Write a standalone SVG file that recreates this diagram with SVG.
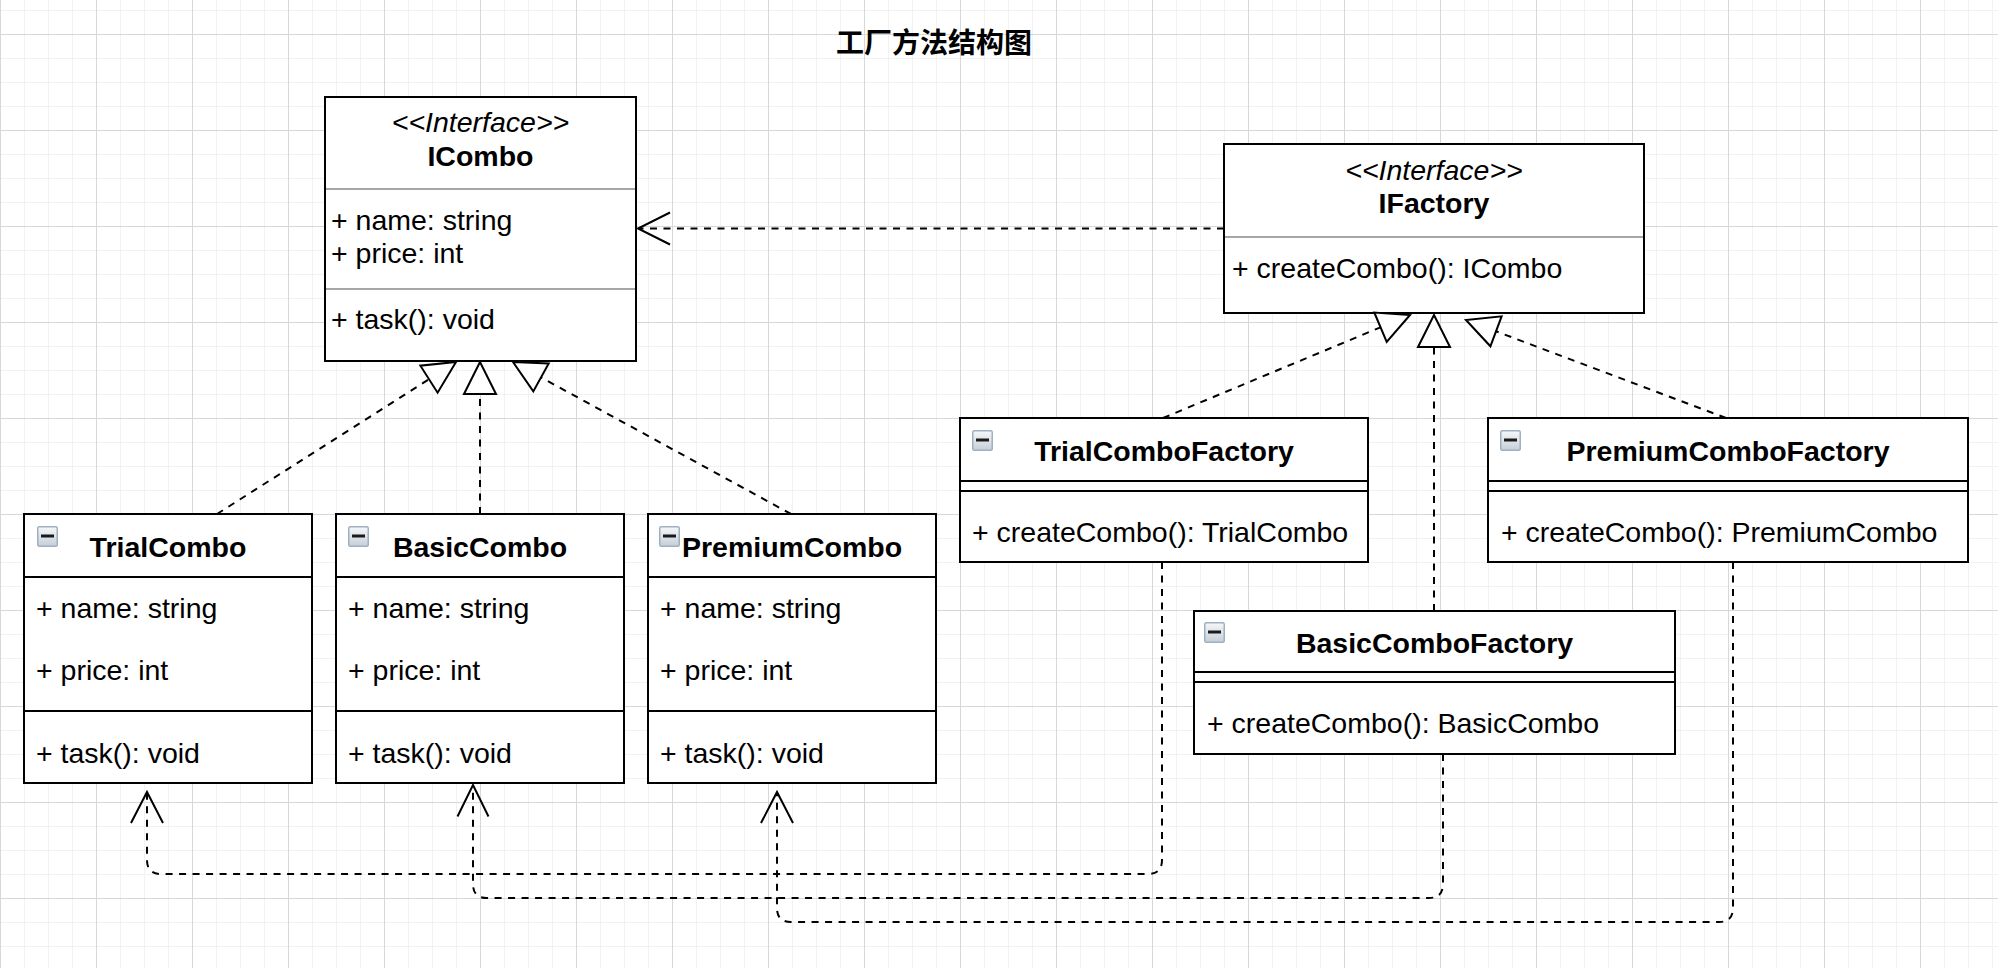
<svg xmlns="http://www.w3.org/2000/svg" width="1998" height="968" viewBox="0 0 1998 968">
<style>
.box{fill:#fff;stroke:#000;stroke-width:2}
.div{stroke:#000;stroke-width:2;fill:none}
.hr{stroke:#a6a6a6;stroke-width:2;fill:none}
.t{font-family:"Liberation Sans",Arial,Helvetica,sans-serif;font-size:28.5px;fill:#000}
.b{font-weight:bold}
.i{font-style:italic}
.c{text-anchor:middle}
.title{font-family:"Noto Sans CJK SC","Noto Sans",sans-serif;font-size:28px;font-weight:bold;text-anchor:middle;fill:#000}
.dash{fill:none;stroke:#000;stroke-width:2;stroke-dasharray:7 6.5}
.open{fill:none;stroke:#000;stroke-width:2;stroke-linejoin:miter}
.tri{fill:#fff;stroke:#000;stroke-width:2;stroke-linejoin:miter}
</style>
<defs>
<pattern id="grid" width="96" height="96" patternUnits="userSpaceOnUse" x="0" y="34">
<path d="M24.5 0V96M48.5 0V96M72.5 0V96M0 24.5H96M0 48.5H96M0 72.5H96" stroke="#f2f2f2" stroke-width="1" fill="none"/>
<path d="M0.5 0V96M0 0.5H96" stroke="#d8d8d8" stroke-width="1" fill="none"/>
</pattern>
<linearGradient id="ig" x1="0" y1="0" x2="0" y2="1">
<stop offset="0" stop-color="#f6f8fa"/>
<stop offset="1" stop-color="#c5ced8"/>
</linearGradient>
<g id="icon">
<rect x="0.75" y="0.75" width="19.5" height="19.5" rx="1.5" fill="url(#ig)" stroke="#9fb0c2" stroke-width="1.5"/>
<rect x="4" y="8.5" width="13" height="3" fill="#1a1a1a"/>
</g>
</defs>
<rect width="1998" height="968" fill="#fff"/>
<rect width="1998" height="968" fill="url(#grid)"/>

<text class="title" x="934" y="53">工厂方法结构图</text>

<g id="ICombo">
<rect class="box" x="325" y="97" width="311" height="264"/>
<text class="t i c" x="480.5" y="132">&lt;&lt;Interface&gt;&gt;</text>
<text class="t b c" x="480.5" y="166">ICombo</text>
<line class="hr" x1="326" y1="189" x2="635" y2="189"/>
<text class="t" x="331" y="230">+ name: string</text>
<text class="t" x="331" y="263">+ price: int</text>
<line class="hr" x1="326" y1="289" x2="635" y2="289"/>
<text class="t" x="331" y="329">+ task(): void</text>
</g>

<g id="IFactory">
<rect class="box" x="1224" y="144" width="420" height="169"/>
<text class="t i c" x="1434" y="180">&lt;&lt;Interface&gt;&gt;</text>
<text class="t b c" x="1434" y="213">IFactory</text>
<line class="hr" x1="1225" y1="237" x2="1643" y2="237"/>
<text class="t" x="1232" y="278">+ createCombo(): ICombo</text>
</g>

<g id="TrialCombo">
<rect class="box" x="24" y="514" width="288" height="269"/>
<line class="div" x1="24" y1="577" x2="312" y2="577"/>
<line class="div" x1="24" y1="711" x2="312" y2="711"/>
<use href="#icon" x="37" y="526"/>
<text class="t b c" x="168" y="557">TrialCombo</text>
<text class="t" x="36" y="618">+ name: string</text>
<text class="t" x="36" y="680">+ price: int</text>
<text class="t" x="36" y="763">+ task(): void</text>
</g>

<g id="BasicCombo">
<rect class="box" x="336" y="514" width="288" height="269"/>
<line class="div" x1="336" y1="577" x2="624" y2="577"/>
<line class="div" x1="336" y1="711" x2="624" y2="711"/>
<use href="#icon" x="348" y="526"/>
<text class="t b c" x="480" y="557">BasicCombo</text>
<text class="t" x="348" y="618">+ name: string</text>
<text class="t" x="348" y="680">+ price: int</text>
<text class="t" x="348" y="763">+ task(): void</text>
</g>

<g id="PremiumCombo">
<rect class="box" x="648" y="514" width="288" height="269"/>
<line class="div" x1="648" y1="577" x2="936" y2="577"/>
<line class="div" x1="648" y1="711" x2="936" y2="711"/>
<use href="#icon" x="659" y="526"/>
<text class="t b c" x="792" y="557">PremiumCombo</text>
<text class="t" x="660" y="618">+ name: string</text>
<text class="t" x="660" y="680">+ price: int</text>
<text class="t" x="660" y="763">+ task(): void</text>
</g>

<g id="TrialComboFactory">
<rect class="box" x="960" y="418" width="408" height="144"/>
<line class="div" x1="960" y1="481" x2="1368" y2="481"/>
<line class="div" x1="960" y1="491" x2="1368" y2="491"/>
<use href="#icon" x="972" y="430"/>
<text class="t b c" x="1164" y="461">TrialComboFactory</text>
<text class="t" x="972" y="542">+ createCombo(): TrialCombo</text>
</g>

<g id="BasicComboFactory">
<rect class="box" x="1194" y="611" width="481" height="143"/>
<line class="div" x1="1194" y1="672" x2="1675" y2="672"/>
<line class="div" x1="1194" y1="682" x2="1675" y2="682"/>
<use href="#icon" x="1204" y="622"/>
<text class="t b c" x="1434.5" y="653">BasicComboFactory</text>
<text class="t" x="1207" y="733">+ createCombo(): BasicCombo</text>
</g>

<g id="PremiumComboFactory">
<rect class="box" x="1488" y="418" width="480" height="144"/>
<line class="div" x1="1488" y1="481" x2="1968" y2="481"/>
<line class="div" x1="1488" y1="491" x2="1968" y2="491"/>
<use href="#icon" x="1500" y="430"/>
<text class="t b c" x="1728" y="461">PremiumComboFactory</text>
<text class="t" x="1501" y="542">+ createCombo(): PremiumCombo</text>
</g>

<g id="connectors">
<!-- IFactory depends on ICombo -->
<path class="dash" d="M1224 228.5H640"/>
<path class="open" d="M670 212.5L638 228.5L670 244.5"/>

<!-- realizations of ICombo -->
<path class="dash" d="M217 514L429 379.2"/>
<polygon class="tri" points="456,362 437.6,392.7 420.4,365.7"/>
<path class="dash" d="M480 514V394"/>
<polygon class="tri" points="480,362 464,394 496,394"/>
<path class="dash" d="M791 514L541 377.4"/>
<polygon class="tri" points="513,362 533.3,391.4 548.7,363.4"/>

<!-- realizations of IFactory -->
<path class="dash" d="M1163 418L1380.5 327.3"/>
<polygon class="tri" points="1410,315 1386.7,342 1374.3,312.5"/>
<path class="dash" d="M1434 611V347"/>
<polygon class="tri" points="1434,315 1418,347 1450,347"/>
<path class="dash" d="M1726 418L1496 331.3"/>
<polygon class="tri" points="1466,320 1490.4,346.3 1501.6,316.3"/>

<!-- factories create combos -->
<path class="dash" d="M1162 562V860Q1162 874 1148 874H161Q147 874 147 860V794"/>
<path class="open" d="M131 823L147 792L163 823"/>
<path class="dash" d="M1443 754V884Q1443 898 1429 898H487Q473 898 473 884V787"/>
<path class="open" d="M457.5 816.5L473 785L488.5 816.5"/>
<path class="dash" d="M1733 562V908Q1733 922 1719 922H791Q777 922 777 908V794"/>
<path class="open" d="M761 823L777 792L793 823"/>
</g>
</svg>
